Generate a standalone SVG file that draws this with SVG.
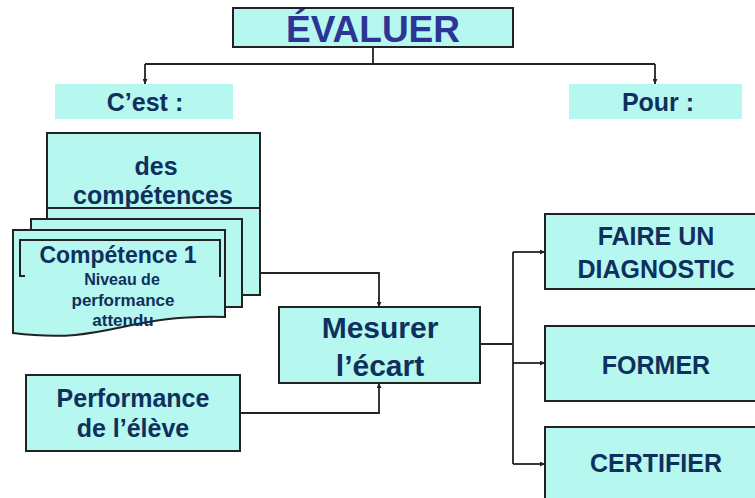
<svg xmlns="http://www.w3.org/2000/svg" width="755" height="498" viewBox="0 0 755 498">
<defs>
<style>
.box{fill:#B6F7F0;stroke:#222;stroke-width:2}
.nb{fill:#B6F7F0;stroke:none}
.ln{fill:none;stroke:#222;stroke-width:2}
.t{font-family:"Liberation Sans",Arial,sans-serif;font-weight:bold;fill:#0F2F5C;text-anchor:middle}
.conn{fill:none;stroke:#222;stroke-width:1.8}
</style>
<marker id="arr" viewBox="0 0 10 10" refX="10" refY="5" markerWidth="5" markerHeight="5" orient="auto" markerUnits="userSpaceOnUse">
<path d="M0,0 L10,5 L0,10 Z" fill="#222"/>
</marker>
</defs>
<rect width="755" height="498" fill="#fff"/>

<g id="connectors">
<path class="conn" d="M373,47 V64 M145,64 H655"/>
<path class="conn" d="M145,64 V84" marker-end="url(#arr)"/>
<path class="conn" d="M655,64 V84" marker-end="url(#arr)"/>
<path class="conn" d="M260,273 H379 V307" marker-end="url(#arr)"/>
<path class="conn" d="M240,413 H379 V383" marker-end="url(#arr)"/>
<path class="conn" d="M480,344 H513 M513,252 V464"/>
<path class="conn" d="M513,252 H545" marker-end="url(#arr)"/>
<path class="conn" d="M513,363 H545" marker-end="url(#arr)"/>
<path class="conn" d="M513,464 H545" marker-end="url(#arr)"/>
</g>

<g id="evaluer">
<rect class="box" x="233" y="8" width="280" height="39"/>
<text class="t" x="373" y="42" font-size="37" style="fill:#2B3595">ÉVALUER</text>
</g>

<g id="cest">
<rect class="nb" x="55" y="84" width="178" height="35"/>
<text class="t" x="145" y="111" font-size="25">C’est :</text>
</g>

<g id="pour">
<rect class="nb" x="569" y="84" width="173" height="35"/>
<text class="t" x="658" y="111" font-size="25">Pour :</text>
</g>

<g id="competences">
<rect class="box" x="47" y="133" width="213" height="162"/>
<line class="ln" x1="47" y1="208" x2="260" y2="208"/>
<text class="t" x="156" y="175" font-size="25">des</text>
<text class="t" x="153" y="204" font-size="25">compétences</text>
<rect class="box" x="31" y="219" width="211" height="88"/>
<path class="box" d="M13,230 H225 V317 C120,314 110,345 13,333 Z"/>
<path class="ln" d="M25,276 H20 V240 H220 V277"/>
<text class="t" x="118" y="263" font-size="23">Compétence 1</text>
<text class="t" x="122" y="285" font-size="16">Niveau de</text>
<text class="t" x="123" y="306" font-size="17">performance</text>
<text class="t" x="123" y="326" font-size="17">attendu</text>
</g>

<g id="mesurer">
<rect class="box" x="279" y="307" width="201" height="76"/>
<text class="t" x="380" y="338" font-size="30">Mesurer</text>
<text class="t" x="380" y="376" font-size="30">l’écart</text>
</g>

<g id="performance">
<rect class="box" x="26" y="375" width="214" height="76"/>
<text class="t" x="133" y="407" font-size="25">Performance</text>
<text class="t" x="133" y="437" font-size="25">de l’élève</text>
</g>

<g id="diagnostic">
<rect class="box" x="545" y="214" width="215" height="75"/>
<text class="t" x="656" y="245" font-size="25">FAIRE UN</text>
<text class="t" x="656" y="278" font-size="25">DIAGNOSTIC</text>
</g>

<g id="former">
<rect class="box" x="545" y="326" width="215" height="75"/>
<text class="t" x="656" y="374" font-size="25">FORMER</text>
</g>

<g id="certifier">
<rect class="box" x="545" y="427" width="215" height="80"/>
<text class="t" x="656" y="472" font-size="25">CERTIFIER</text>
</g>
</svg>
